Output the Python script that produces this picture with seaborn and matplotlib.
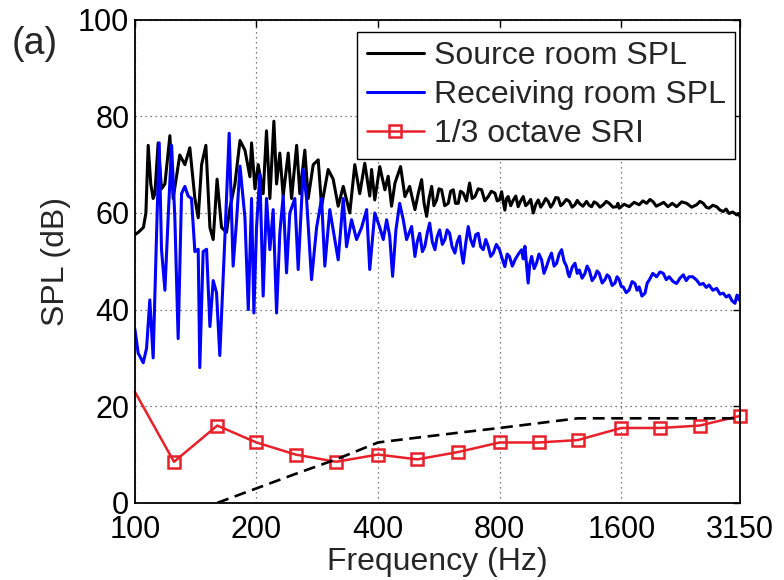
import matplotlib
matplotlib.use("Agg")
import matplotlib.pyplot as plt
import seaborn as sns

# ---------------- data ----------------
src_freq = [100, 102, 105, 106.5, 107.9, 109.5, 111, 112.1, 114.2, 116.4, 118.7, 122.1, 124.4, 129.2, 133,
            136.8, 140.8, 143.5, 146.3, 149.9, 153.4, 156.3, 159.8, 163.9, 168.6, 171.9, 176.9, 182.1, 187.3,
            192.7, 194.5, 198.3, 202, 207.8, 211.8, 215.9, 220.9, 224.3, 228.5, 232.9, 239.7, 244.3, 251.5,
            256.1, 263.5, 268.6, 276.4, 284.4, 289.9, 301, 309.7, 318.7, 328, 340.5, 350.3, 360.4, 370.8,
            381.5, 385.5, 392.6, 403.9, 415.9, 423.8, 432, 440.5, 454.8, 466.2, 479, 493.6, 503, 512.7, 520,
            527.6, 535, 543, 550, 558.5, 566, 574.6, 585, 596.9, 605, 614.2, 622, 631.9, 640, 650.1, 662, 674,
            684, 694.8, 708, 721.8, 735, 749.6, 763, 778.8, 789, 799.4, 809, 816, 824, 832, 840, 852, 865, 877,
            889, 902, 915, 928, 941, 955, 969, 983, 997, 1011, 1026, 1040, 1055, 1070, 1086, 1101, 1117, 1133,
            1150, 1170, 1190, 1209, 1229, 1245, 1260, 1286, 1313, 1332, 1351, 1371, 1391, 1417, 1444, 1469,
            1494, 1526, 1558, 1570, 1581, 1627, 1674, 1722, 1772, 1810, 1849, 1885, 1920, 1953, 1986, 2037,
            2089, 2140, 2194, 2258, 2323, 2390, 2459, 2505, 2554, 2596, 2639, 2697, 2756, 2809, 2862, 2910,
            2957, 3020, 3090, 3120, 3150]
src_spl = [55.5, 56, 57, 60, 74, 66, 63, 64, 74.5, 65, 66, 76, 63, 72, 70,
           73.5, 63, 59, 70, 74, 57, 54.5, 67, 57, 56, 61, 66, 75, 73,
           67.5, 74.5, 65, 70, 64, 77, 63, 79, 66, 72.4, 63.5, 72.4, 63, 74,
           64, 73, 63, 70, 71, 61.4, 69, 67, 61.4, 65.5, 60, 70, 64, 70.3,
           63.5, 69, 62.7, 69.6, 64.8, 67.6, 61.4, 66.2, 69.6, 63.4, 65.5, 60.7, 64, 66.9, 62,
           59.3, 63, 65.5, 61.5, 62.7, 65, 64.8, 61.5, 62, 64.5, 64.8, 62, 62, 64.5, 64.1, 62.5, 66.2,
           63, 63.4, 65, 64.8, 62.5, 63.4, 64.5, 64.1, 62.5, 62.7, 64.4, 62.5, 60.6, 63, 63.4, 61.5, 62.7, 63.5,
           61.3, 62.5, 63.4, 61.5, 62, 62.8, 60, 61.8, 62.7, 61.2, 62, 63, 62.4, 61.2, 62, 63.2, 63.1, 61.5,
           62, 62.8, 62.4, 61.2, 61.7, 62.6, 62, 61.4, 62.4, 61.6, 61.3, 62.3, 62, 61.2, 61.7, 62.4,
           62, 61.2, 61.3, 62, 61, 61.8, 61.3, 62.2, 61.7, 62.5, 62, 62.8, 62.3, 61.4, 61.7, 62.2,
           61.3, 62, 61.3, 62.3, 62, 61.2, 61.7, 62.4, 62, 61.2, 61, 61.6, 61.3, 60.6, 60.3, 60.8,
           59.9, 60.2, 59.6, 59.9, 59.2]

rcv_freq = [100, 101.9, 104.9, 106.9, 108.9, 111, 113.2, 114.9, 116.4, 118.7, 120.9, 123.3, 125.6, 128,
            130.5, 133, 135.5, 138.1, 140.8, 143.5, 144.8, 147.6, 150.5, 153.4, 156.3, 159.3, 162.3, 167,
            171.2, 175.1, 178.6, 182.1, 187.3, 190.9, 194.5, 197.1, 200.1, 203.9, 207.8, 211.8, 215.9, 220,
            224.3, 228.5, 232.9, 237.4, 241.9, 248.9, 253.7, 261.1, 266.1, 273.8, 281.8, 289.9, 295.3, 303.8,
            312.6, 318.7, 328, 334.2, 343.9, 353.9, 364.2, 374.8, 381.5, 392.6, 403.9, 412.1, 420.1, 427.5,
            434.6, 442.9, 452.5, 461.8, 470.7, 484.3, 493.6, 500, 507.1, 515, 522.4, 530, 536.8, 545, 553.2,
            560, 568.2, 577, 585.5, 593, 601.5, 610, 619.9, 628, 636.7, 643, 650.1, 660, 668.9, 678, 688.2,
            698, 707.9, 718, 728.4, 739, 749.6, 760, 771.4, 785, 799.4, 812, 824, 835, 846, 860, 873, 890,
            907, 915, 924, 933, 941, 950, 960, 974, 987, 1001, 1016, 1030, 1045, 1060, 1075, 1091, 1107, 1123,
            1139, 1155, 1172, 1181, 1190, 1210, 1229, 1245, 1260, 1280, 1301, 1317, 1333, 1355, 1377, 1394,
            1411, 1435, 1458, 1476, 1494, 1519, 1544, 1562, 1581, 1600, 1618, 1646, 1674, 1702, 1730, 1751,
            1772, 1800, 1832, 1855, 1876, 1915, 1957, 1995, 2033, 2068, 2102, 2150, 2194, 2235, 2279, 2317,
            2355, 2405, 2459, 2505, 2554, 2597, 2639, 2697, 2756, 2809, 2862, 2910, 2957, 3010, 3059, 3095,
            3130, 3150]
rcv_spl = [36, 31, 29, 32, 42, 30, 56, 74.5, 52.5, 44, 59, 74, 59, 34,
           64, 65.5, 63.5, 63, 52, 52.5, 28, 52, 52.5, 36.5, 46, 43.5, 30.5, 54.5,
           76.5, 49, 58.5, 69.7, 59, 40, 63, 39.3, 57, 68, 42.8, 63, 52.4, 60.7,
           39.3, 55.9, 63.5, 47.6, 60, 63, 48.3, 69, 63, 46.2, 57, 63, 49, 60.7,
           54.5, 50.3, 63, 53, 58.6, 54.5, 57, 60.7, 48.3, 60, 57, 54.5, 58.6, 55.2,
           46.9, 56.5, 62, 58.6, 54.5, 57.2, 51, 54, 55.8, 52, 53.1, 56, 57.9, 54, 52.4,
           55, 56.5, 53.5, 54.5, 56.5, 55.8, 53, 51.7, 54, 55.2, 52, 49.6, 54, 57.2, 54.5, 53.1,
           55.5, 55.8, 53, 52.4, 54.5, 53.1, 51, 51.7, 53.5, 52.4, 50.5, 48.9, 51.5, 51, 49, 50.3, 51.5,
           52.4, 50.5, 53.1, 49, 45.5, 49.5, 51, 48.5, 49.6, 51.5, 50.3, 47.5, 48.9, 50.5, 51.7, 49, 49.6, 51.5,
           52.4, 50, 48.9, 47.5, 46.8, 48.8, 49.6, 47.5, 48.2, 46.5, 47.5, 49, 48.2, 46, 46.8, 48,
           47.5, 45.5, 46.2, 47.2, 46.8, 45, 45.5, 46.8, 46.2, 44.8, 44.7, 43.5, 44.1, 45.8, 45.4, 44,
           44.7, 42.8, 43.4, 45.5, 46.1, 47.5, 46.8, 47.8, 47.5, 46.2, 46.8, 45.8, 45.4, 46.5, 47.2, 46,
           46.8, 46.8, 46.1, 45.2, 45.4, 44.6, 45.1, 44, 44.4, 43.2, 43.4, 42.6, 43, 41.8, 41.3, 43,
           42, 43]

sri_freq = [100, 125, 160, 200, 250, 315, 400, 500, 630, 800, 1000, 1250, 1600, 2000, 2500, 3150]
sri_val = [23, 8.5, 16, 12.5, 10, 8.5, 10, 9, 10.5, 12.5, 12.5, 13, 15.5, 15.5, 16, 18]

ref_freq = [160, 200, 250, 315, 400, 500, 630, 800, 1000, 1250, 1600, 2000, 2500, 3150]
ref_val = [0, 3, 6, 9, 12.5, 13.5, 14.5, 15.5, 16.5, 17.5, 17.5, 17.5, 17.5, 17.5]

xticks = [100, 200, 400, 800, 1600, 3150]
xtick_labels = ["100", "200", "400", "800", "1600", "3150"]
yticks = [0, 20, 40, 60, 80, 100]

# ---------------- style ----------------
sns.set_style("white")
plt.rcParams["font.family"] = ["Liberation Sans", "DejaVu Sans"]

fig = plt.figure(figsize=(7.84, 5.80), dpi=100)
ax = fig.add_axes([0.172, 0.133, 0.772, 0.833])

sns.lineplot(x=src_freq, y=src_spl, ax=ax, color="#000000", linewidth=2.2,
             estimator=None, sort=False, label="Source room SPL")
sns.lineplot(x=rcv_freq, y=rcv_spl, ax=ax, color="#0000ff", linewidth=2.2,
             estimator=None, sort=False, label="Receiving room SPL")
sns.lineplot(x=sri_freq, y=sri_val, ax=ax, color="#e8202a", linewidth=1.8,
             marker="s", markersize=9, markerfacecolor="none", markeredgecolor="#e8202a",
             markeredgewidth=1.8, markevery=list(range(1, len(sri_freq))), clip_on=False,
             estimator=None, sort=False, label="1/3 octave SRI")
sns.lineplot(x=ref_freq, y=ref_val, ax=ax, color="#000000", linewidth=1.9,
             linestyle=(0, (4.5, 2.5)), estimator=None, sort=False, legend=False)

ax.set_xscale("log")
ax.set_xlim(100, 3150)
ax.set_ylim(0, 100)
ax.set_xticks(xticks)
ax.set_xticklabels(xtick_labels)
ax.minorticks_off()
ax.set_yticks(yticks)

ax.grid(True, which="major", linestyle=(0, (1, 3)), color="#555555", linewidth=0.9)
for s in ax.spines.values():
    s.set_color("black")
    s.set_linewidth(1.3)
ax.tick_params(axis="both", direction="in", length=5, width=1, top=True, right=True,
               labelsize=22, colors="black")
ax.tick_params(axis="x", pad=9)
ax.tick_params(axis="y", pad=4)

ax.set_xlabel("Frequency (Hz)", fontsize=23, labelpad=1)
ax.set_ylabel("SPL (dB)", fontsize=23, labelpad=5)

leg = ax.legend(loc="upper right", bbox_to_anchor=(0.992, 0.975), borderaxespad=0,
                fontsize=23, frameon=True, fancybox=False, edgecolor="black",
                handlelength=1.8, handletextpad=0.3, labelspacing=0.28, borderpad=0.3)
leg.get_frame().set_linewidth(1.0)
leg.get_frame().set_alpha(1)

fig.text(0.015, 0.925, "(a)", fontsize=27, va="center", ha="left")

fig.savefig("out.png", dpi=100)
